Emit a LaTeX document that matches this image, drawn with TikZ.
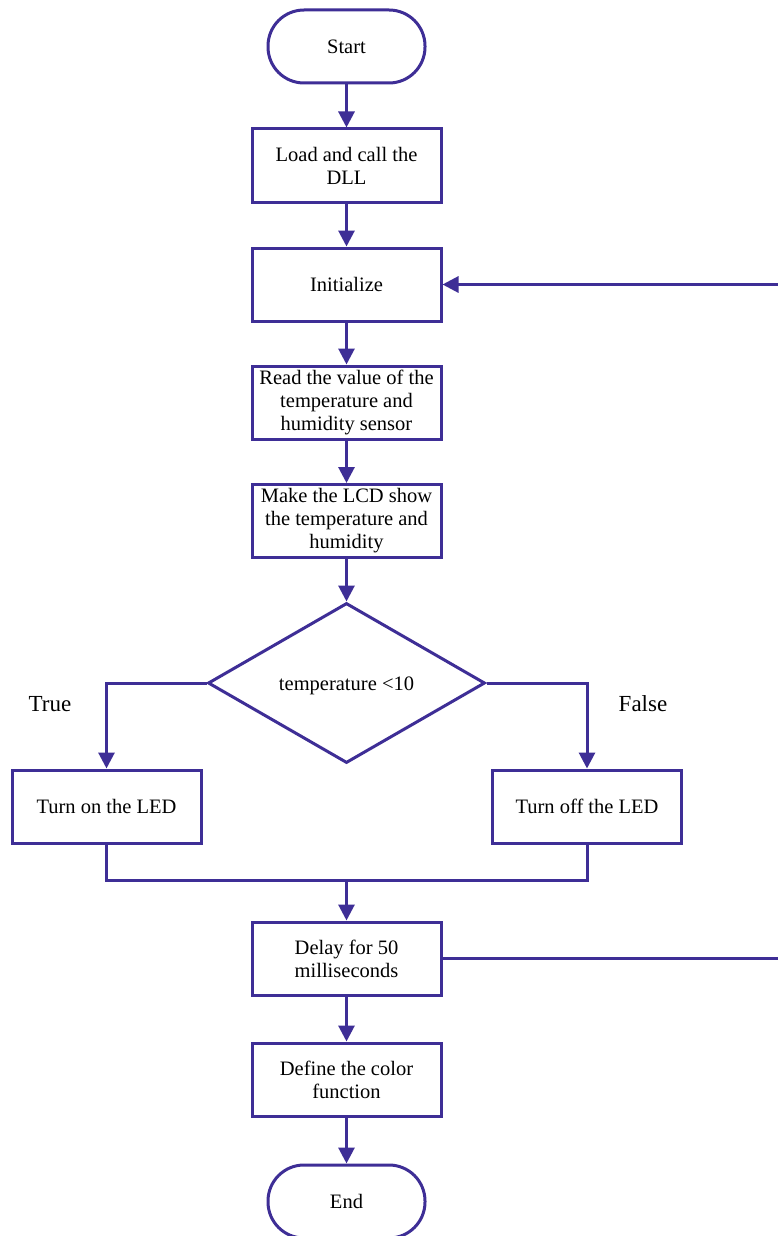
\documentclass[tikz,border=0pt]{standalone}
\usepackage{fontspec}
\setmainfont{Liberation Serif}
\usetikzlibrary{shapes.geometric,arrows.meta}
\definecolor{flowline}{RGB}{62,46,150}
\tikzset{
  base/.style={draw=flowline, line width=3pt, text=black, align=center,
    font=\fontsize{20.5}{23}\selectfont, inner sep=0pt},
  terminal/.style={base, rectangle, rounded corners=36pt,
    minimum width=157pt, minimum height=73pt},
  process/.style={base, rectangle, minimum width=189pt, minimum height=73pt},
  decision/.style={base, diamond, minimum width=277pt, minimum height=160pt,
    aspect=1.73},
  flow/.style={draw=flowline, line width=3pt,
    -{Triangle[length=16pt,width=16pt]}},
  plain/.style={draw=flowline, line width=3pt},
  branch/.style={font=\fontsize{23}{26}\selectfont, text=black}
}
\begin{document}
\begin{tikzpicture}[x=1pt,y=-1pt]
  \fill[white] (0,0) rectangle (777,1236);
  \useasboundingbox (0,0) rectangle (777,1236);

  \node[terminal] (start) at (346.5,46.5) {Start};
  \node[process] (load) at (346.5,165.5) {Load and call the\\DLL};
  \node[process] (init) at (346.5,284.5) {Initialize};
  \node[process] (read) at (346.5,402.5) {Read the value of the\\temperature and\\humidity sensor};
  \node[process] (lcd) at (346.5,521) {Make the LCD show\\the temperature and\\humidity};
  \node[decision] (cond) at (346.5,683) {};
  \node[base, draw=none] (condtext) at (346.5,686) {temperature {<}10};
  \node[process] (on) at (106.5,806.5) {Turn on the LED};
  \node[process] (off) at (587,806.5) {Turn off the LED};
  \node[process] (delay) at (346.5,958.5) {Delay for 50\\milliseconds};
  \node[process] (color) at (346.5,1079.5) {Define the color\\function};
  \node[terminal] (end) at (346.5,1201.5) {End};

  \node[branch] (truelbl) at (50,704) {True};
  \node[branch] (falselbl) at (643,704) {False};

  \coordinate (join) at (346.5,880);
  \coordinate (loopbot) at (800,958.5);
  \coordinate (looptop) at (800,284.5);

  \draw[flow] (start) -- (load);
  \draw[flow] (load) -- (init);
  \draw[flow] (init) -- (read);
  \draw[flow] (read) -- (lcd);
  \draw[flow] (lcd) -- (cond);
  \draw[flow] (cond.west) -| (on.north);
  \draw[flow] (cond.east) -| (off.north);
  \draw[plain] (on.south) |- (join);
  \draw[plain] (off.south) |- (join);
  \draw[flow] (join) -- (delay);
  \draw[flow] (delay) -- (color);
  \draw[flow] (color) -- (end);
  \draw[flow] (delay.east) -- (loopbot) -- (looptop) -- (init.east);
\end{tikzpicture}
\end{document}
